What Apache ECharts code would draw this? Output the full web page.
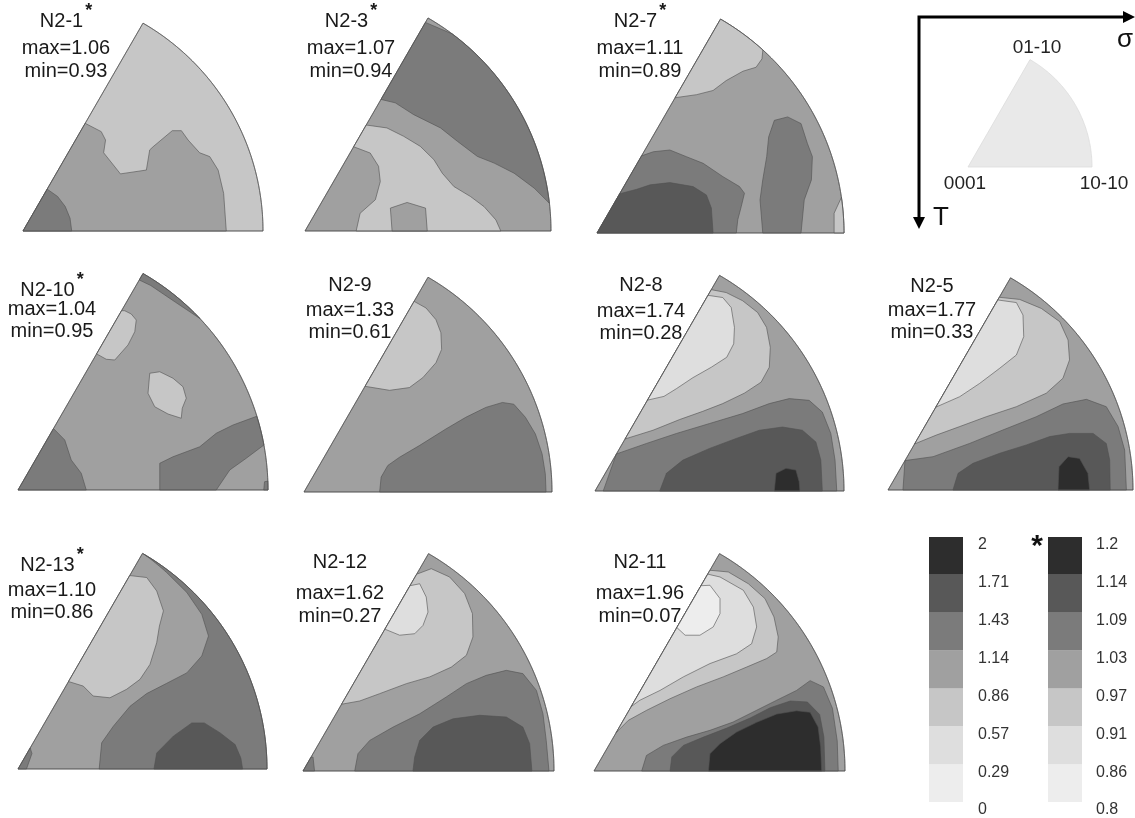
<!DOCTYPE html>
<html>
<head>
<meta charset="utf-8">
<script src="https://cdn.jsdelivr.net/npm/echarts/dist/echarts.min.js"></script>
<style>
  html, body { margin: 0; padding: 0; background: #ffffff; }
  #chart { width: 1135px; height: 818px; }
</style>
</head>
<body>
<div id="chart"></div>
<script>
// ---- colour bands and scale labels ----
const bandColors = ['#ededed', '#dedede', '#c6c6c6', '#a0a0a0', '#7b7b7b', '#585858', '#2d2d2d'];
const fullScale = ['0', '0.29', '0.57', '0.86', '1.14', '1.43', '1.71', '2'];
const starScale = ['0.8', '0.86', '0.91', '0.97', '1.03', '1.09', '1.14', '1.2'];

// ---- samples ----
const sampleNames = ['N2-1', 'N2-3', 'N2-7', 'N2-10', 'N2-9', 'N2-8', 'N2-5', 'N2-13', 'N2-12', 'N2-11'];
const starScaled  = [true, true, true, true, false, false, false, true, false, false];
const maxValues   = ['1.06', '1.07', '1.11', '1.04', '1.33', '1.74', '1.77', '1.10', '1.62', '1.96'];
const minValues   = ['0.93', '0.94', '0.89', '0.95', '0.61', '0.28', '0.33', '0.86', '0.27', '0.07'];

// Pole-figure domain: 60 degree sector, radius 100 (apex = 0001).
const SECTOR = [[0, 0], [100, 0], [50, 86.603]];

// Contour regions per sample: [band index, polygon in (u, v) % of radius], painted in order.
const n2_1 = [
  [2, SECTOR],
  [3, [[0,0],[25.5,45.1],[32.6,41.4],[34.4,37.9],[33.6,32.6],[40.6,23.8],[51.4,25.4],[52.8,33.8],[54.2,35.1],[62.2,41.8],[66.0,41.8],[68.8,37.9],[73.6,32.6],[77.8,31.0],[81.3,25.4],[83.6,15.7],[84.7,0]]],
  [4, [[0,0],[20.3,0],[19.6,5.3],[17.6,10.2],[14.4,14.4],[9.8,17.6]]]
];
const n2_3 = [
  [3, SECTOR],
  [4, [[48.6,85.0],[60.5,81.1],[99.3,11.3],[93.2,17.4],[85.0,23.5],[76.9,27.6],[70.1,30.3],[61.9,36.5],[55.1,41.9],[44.2,47.3],[36.7,52.1],[30.5,53.7]]],
  [2, [[24.5,43.3],[33.3,41.9],[40.1,38.5],[46.9,34.4],[52.4,29.0],[55.8,23.5],[60.5,18.1],[67.3,14.0],[72.8,9.9],[77.6,4.5],[79.6,0],[20.8,0],[22.4,7.2],[28.6,12.7],[30.6,20.1],[29.9,26.3],[26.5,31.7],[19.5,34.4]]],
  [3, [[34.7,9.3],[41.5,11.6],[49.0,9.3],[49.7,0],[35.4,0]]]
];
const n2_7 = [
  [3, SECTOR],
  [2, [[31.2,55.0],[40.3,56.0],[47.0,57.7],[52.3,61.7],[59.1,65.5],[64.4,67.1],[66.8,70.5],[67.5,74.5],[50,86.603]]],
  [4, [[0,0],[17.6,31.5],[22.8,32.9],[29.5,33.6],[36.2,30.9],[43.0,28.2],[51.0,22.8],[57.7,18.8],[59.7,16.1],[58.4,10.7],[57.0,5.4],[56.4,0]]],
  [5, [[0,0],[8.8,16.1],[16.1,17.7],[21.5,19.5],[29.5,20.4],[38.9,18.8],[44.3,15.4],[46.3,10.1],[47.0,0]]],
  [4, [[71.8,45.6],[77.2,47.0],[82.6,44.3],[85.2,36.2],[87.2,30.9],[86.8,21.5],[83.9,13.4],[82.6,0],[67.1,0],[66.0,13.4],[67.1,21.5],[68.7,30.9],[69.5,38.9]]],
  [2, [[96.0,0],[96.0,8.0],[99.5,14.5],[100,0]]]
];
const n2_10 = [
  [3, SECTOR],
  [2, [[41.0,72.0],[31.0,54.7],[35.3,52.3],[38.7,52.0],[44.0,58.0],[46.7,63.3],[47.3,68.0],[45.3,70.4],[42.7,71.7]]],
  [2, [[52.7,46.7],[56.7,47.3],[62.0,44.7],[66.0,41.3],[67.3,36.7],[65.7,32.7],[65.3,28.7],[60.0,30.4],[54.7,33.3],[52.0,38.7]]],
  [4, [[0,0],[14.0,24.7],[18.7,20.0],[21.3,12.0],[25.3,6.7],[27.3,0]]],
  [4, [[56.7,0],[56.7,10.7],[62.0,13.3],[72.7,17.3],[79.3,22.7],[86.0,26.0],[95.5,29.5],[98.4,18.0],[91.3,12.7],[84.7,8.0],[79.3,0]]],
  [4, [[98.3,0],[98.6,3.3],[100.5,3.6],[101,0]]],
  [4, [[50,86.603],[72.8,68.6],[63.0,75.1],[53.1,81.8],[48.5,84.0]]]
];
const n2_9 = [
  [3, SECTOR],
  [2, [[44.0,77.1],[49.2,74.2],[53.2,69.5],[55.2,64.2],[55.5,57.5],[53.2,52.1],[47.9,46.1],[42.5,42.1],[34.5,41.0],[24.3,42.8]]],
  [4, [[30.5,0],[31.1,6.0],[33.8,10.7],[38.5,14.0],[46.5,18.7],[57.2,25.4],[65.2,30.1],[73.3,34.1],[80.0,36.1],[84.6,35.4],[89.3,30.1],[93.3,23.4],[96.0,15.4],[97.3,7.4],[97.6,0]]]
];
const n2_8 = [
  [3, SECTOR],
  [2, [[46.3,81.1],[52.7,79.7],[59.3,76.4],[65.3,71.7],[68.9,65.7],[70.4,57.7],[70.0,49.7],[66.7,43.7],[60.0,39.3],[51.3,35.1],[43.3,32.0],[34.0,28.7],[23.3,24.4],[11.7,21.1]]],
  [1, [[45.0,78.8],[51.3,77.7],[54.7,73.7],[56.0,65.7],[55.7,59.1],[52.9,53.7],[46.7,49.7],[39.3,45.5],[32.7,41.1],[27.7,38.0],[20.7,36.7]]],
  [4, [[8.2,15.1],[20.7,19.1],[32.7,23.1],[46.0,27.1],[59.3,31.1],[70.0,35.1],[78.0,37.1],[86.0,36.4],[91.3,31.7],[94.7,23.1],[96.4,12.4],[97.1,0],[3.3,0]]],
  [5, [[26,0],[28.7,7.1],[35.3,12.4],[46,17.1],[56.7,21.1],[66,24.4],[75.3,25.7],[83.3,24.4],[88.7,19.7],[90.7,12.4],[91.3,0]]],
  [6, [[72,0],[72.7,7.1],[76.7,9.1],[80.7,8.4],[82,3.7],[82.3,0]]]
];
const n2_5 = [
  [3, SECTOR],
  [2, [[45.0,78.9],[53.7,77.8],[62.6,74.1],[70.1,68.7],[73.5,61.2],[74.1,53.1],[71.4,45.6],[64.6,39.5],[52.4,34.0],[40.1,29.9],[29.3,25.9],[19.7,22.4],[10.5,19.0]]],
  [1, [[44.4,77.8],[52.4,76.5],[55.1,71.4],[55.4,62.6],[52.4,55.1],[45.6,49.7],[37.4,43.5],[29.3,38.1],[19.2,34.0]]],
  [4, [[6.6,12.2],[18.4,13.6],[33.3,19.0],[46.9,24.5],[60.5,29.9],[71.4,35.1],[81.0,37.0],[89.1,34.0],[93.9,25.9],[96.6,16.3],[97.3,0],[6.1,0]]],
  [5, [[26.5,0],[28.6,6.8],[34.7,10.9],[45.6,15.0],[56.5,18.4],[66.0,21.8],[74.1,23.1],[83.7,23.1],[89.1,19.0],[90.5,12.2],[90.7,0]]],
  [6, [[69.4,0],[69.8,9.5],[73.5,13.6],[78.2,12.9],[81.6,6.8],[82.3,0]]]
];
const n2_13 = [
  [3, SECTOR],
  [2, [[44.5,77.9],[51.7,76.9],[55.7,71.5],[58.4,63.5],[56.8,57.4],[55.7,50.7],[53.0,42.0],[49.0,36.0],[43.6,32.0],[36.9,28.6],[30.2,29.3],[26.2,33.3],[20.0,35.3]]],
  [4, [[50.5,86.5],[59.7,78.9],[67.8,70.9],[73.8,62.1],[76.5,53.4],[73.8,45.4],[67.8,38.6],[59.7,34.4],[51.7,30.3],[45.0,25.2],[38.3,17.2],[33.6,10.5],[32.6,0],[100,0]]],
  [5, [[54.6,0],[55.7,6.4],[62.4,13.2],[69.8,18.5],[74.8,18.5],[81.2,14.5],[87.2,9.8],[89.5,4.4],[90.2,0]]],
  [4, [[0,0],[3.4,0],[5.6,6.2],[4.5,8.7]]]
];
const n2_12 = [
  [3, SECTOR],
  [2, [[44.9,78.6],[51.1,80.6],[58.4,77.3],[64.4,70.7],[67.5,62.7],[67.7,53.4],[65.1,46.1],[59.1,41.4],[50.5,37.5],[41.2,34.8],[30.5,30.8],[22.6,27.9],[15.0,26.8]]],
  [1, [[42.3,74.0],[46.5,74.6],[49.1,69.3],[49.8,63.3],[47.8,58.0],[44.5,54.7],[38.5,54.1],[32.3,56.7]]],
  [4, [[20.6,0],[21.9,6.9],[26.6,12.2],[35.9,17.5],[46.5,22.8],[57.1,29.5],[65.1,34.8],[73.0,38.1],[81.0,40.1],[87.6,38.8],[93.0,32.1],[95.6,22.8],[96.9,12.2],[98.0,0]]],
  [5, [[43.8,0],[44.5,5.6],[46.5,12.2],[51.8,17.5],[59.8,20.8],[70.4,22.2],[81.0,21.5],[87.6,17.5],[90.3,10.9],[91.2,0]]],
  [4, [[0,0],[4.6,0],[4.0,5.6],[2.8,5.6]]]
];
const n2_11 = [
  [3, SECTOR],
  [2, [[45.8,80.2],[53.5,79.3],[61.5,74.6],[68.1,68.7],[71.7,61.4],[73.4,53.4],[72.8,47.4],[68.8,44.8],[60.8,41.4],[51.5,37.5],[40.9,33.5],[30.3,28.8],[21.0,24.2],[13.7,20.2],[8.5,15.5]]],
  [1, [[45.0,78.6],[50.2,77.3],[59.5,72.0],[63.5,65.3],[64.8,57.4],[62.8,50.7],[56.8,46.7],[46.2,42.8],[35.6,37.5],[26.3,32.1],[18.3,28.2],[14.5,25.9]]],
  [0, [[42.3,74.0],[46.2,74.0],[50.2,68.7],[50.2,62.7],[47.5,57.4],[42.2,54.1],[36.3,54.1],[32.6,57.4]]],
  [4, [[19.0,0],[20.9,6.2],[27.6,10.2],[36.9,13.5],[46.2,16.2],[55.4,19.5],[64.8,24.2],[72.8,28.2],[80.7,32.1],[86.1,36.0],[91.4,33.5],[95.0,25.0],[96.9,12.0],[97.3,0]]],
  [5, [[30.3,0],[31.0,5.6],[35.6,10.2],[43.6,13.5],[52.9,17.1],[62.2,21.1],[70.2,25.2],[78.2,27.9],[85.0,27.5],[89.9,22.5],[91.6,13.5],[92.0,0]]],
  [6, [[45.6,0],[46.2,6.9],[50.2,10.9],[56.8,15.5],[64.8,19.4],[72.8,22.7],[80.7,24.0],[86.1,23.4],[89.3,17.5],[90.3,9.6],[90.7,0]]]
];
const contourSets = [n2_1, n2_3, n2_7, n2_10, n2_9, n2_8, n2_5, n2_13, n2_12, n2_11];

// ---- page layout (pixels) ----
const panelLayout = [
  { cx: 23,  cy: 231, R: 240, tx: 66,  ty: [21, 48, 71] },
  { cx: 305, cy: 231, R: 246, tx: 351, ty: [21, 48, 71] },
  { cx: 597, cy: 233, R: 247, tx: 640, ty: [21, 48, 71] },
  { cx: 18,  cy: 490, R: 250, tx: 52,  ty: [290, 309, 331] },
  { cx: 304, cy: 492, R: 248, tx: 350, ty: [285, 310, 332] },
  { cx: 595, cy: 491, R: 249, tx: 641, ty: [285, 311, 333] },
  { cx: 888, cy: 490, R: 245, tx: 932, ty: [286, 310, 332] },
  { cx: 18,  cy: 769, R: 249, tx: 52,  ty: [565, 590, 612] },
  { cx: 303, cy: 771, R: 251, tx: 340, ty: [562, 593, 616] },
  { cx: 594, cy: 771, R: 251, tx: 640, ty: [562, 593, 616] }
];
const keyLayout = { cx: 968, cy: 167, R: 124 };
const FONT = '"Liberation Sans", Arial, sans-serif';
const SIN60 = Math.sqrt(3) / 2;

// width of a string in the label font (for placing the superscript star)
const measureCtx = document.createElement('canvas').getContext('2d');
function textWidth(str, font) { measureCtx.font = font; return measureCtx.measureText(str).width; }

// Keep a vertex inside the 60 degree sector.
function toSector(p) {
  let u = p[0], v = Math.max(0, p[1]);
  if (Math.atan2(v, u) > Math.PI / 3 + 1e-9) {
    const t = Math.max(0, u * 0.5 + v * SIN60);
    u = t * 0.5; v = t * SIN60;
  }
  if (u < 0) u = 0;
  const r = Math.hypot(u, v);
  if (r > 100) { u *= 100 / r; v *= 100 / r; }
  return [u, v];
}
// Edges lying on the rim follow the circular arc.
function tracePath(pts) {
  const q = pts.map(toSector), out = [];
  for (let i = 0; i < q.length; i++) {
    const a = q[i], b = q[(i + 1) % q.length];
    const ra = Math.hypot(a[0], a[1]), rb = Math.hypot(b[0], b[1]);
    if (ra > 98.5 && rb > 98.5) {
      const ta = Math.atan2(a[1], a[0]), tb = Math.atan2(b[1], b[0]);
      const n = Math.max(1, Math.ceil(Math.abs(tb - ta) / 0.01));
      for (let s = 0; s < n; s++) {
        const t = s / n, ang = ta + (tb - ta) * t, r = ra + (rb - ra) * t;
        out.push([r * Math.cos(ang), r * Math.sin(ang)]);
      }
    } else {
      out.push(a);
    }
  }
  return out;
}
function regionRenderer(regions, stroke, lineWidth) {
  return function (params, api) {
    const reg = regions[params.dataIndex];
    const pts = tracePath(reg[1]).map(p => api.coord(p));
    return {
      type: 'polygon',
      z2: params.dataIndex,
      shape: { points: pts },
      style: {
        fill: reg[0] < 0 ? null : (reg[2] || bandColors[reg[0]]),
        stroke: stroke,
        lineWidth: lineWidth
      }
    };
  };
}

const grids = [], xAxes = [], yAxes = [], series = [], texts = [];
function addSectorGrid(cx, cy, R) {
  const idx = grids.length;
  grids.push({ left: cx, top: cy - R * SIN60, width: R, height: R * SIN60 });
  xAxes.push({ type: 'value', gridIndex: idx, min: 0, max: 100, show: false });
  yAxes.push({ type: 'value', gridIndex: idx, min: 0, max: 86.603, show: false });
  return idx;
}

const LABEL_FONT = '20px ' + FONT;
const STAR_FONT = 'bold 18px ' + FONT;
contourSets.forEach((regions, k) => {
  const L = panelLayout[k];
  const gi = addSectorGrid(L.cx, L.cy, L.R);
  const withRim = regions.concat([[-1, SECTOR]]);
  series.push({
    type: 'custom', xAxisIndex: gi, yAxisIndex: gi, silent: true, animation: false, clip: false,
    renderItem: regionRenderer(withRim, 'rgba(80,80,80,0.75)', 0.8),
    data: withRim.map((r, i) => [i, r[0]])
  });
  const txtStyle = { font: LABEL_FONT, fill: '#1a1a1a', align: 'center', verticalAlign: 'middle' };
  if (starScaled[k]) {
    // sample name followed by a raised star
    const w = textWidth(sampleNames[k], LABEL_FONT), sw = textWidth('*', STAR_FONT);
    const x0 = L.tx - (w + sw + 2) / 2;
    texts.push({ type: 'text', x: x0, y: L.ty[0], silent: true,
      style: { text: sampleNames[k], font: LABEL_FONT, fill: '#1a1a1a', align: 'left', verticalAlign: 'middle' } });
    texts.push({ type: 'text', x: x0 + w + 2, y: L.ty[0] - 10, silent: true,
      style: { text: '*', font: STAR_FONT, fill: '#1a1a1a', align: 'left', verticalAlign: 'middle' } });
  } else {
    texts.push({ type: 'text', x: L.tx, y: L.ty[0], silent: true, style: Object.assign({}, txtStyle, { text: sampleNames[k] }) });
  }
  texts.push({ type: 'text', x: L.tx, y: L.ty[1], silent: true, style: Object.assign({}, txtStyle, { text: 'max=' + maxValues[k] }) });
  texts.push({ type: 'text', x: L.tx, y: L.ty[2], silent: true, style: Object.assign({}, txtStyle, { text: 'min=' + minValues[k] }) });
});

// key sector (orientation reference)
const keyRegions = [[0, SECTOR, '#e9e9e9']];
const kg = addSectorGrid(keyLayout.cx, keyLayout.cy, keyLayout.R);
series.push({
  type: 'custom', xAxisIndex: kg, yAxisIndex: kg, silent: true, animation: false, clip: false,
  renderItem: regionRenderer(keyRegions, '#dcdcdc', 0.8),
  data: keyRegions.map((r, i) => [i, r[0]])
});
const keyText = { font: '19px ' + FONT, fill: '#222', align: 'center', verticalAlign: 'middle' };
texts.push({ type: 'text', x: 1037, y: 48, silent: true, style: Object.assign({}, keyText, { text: '01-10' }) });
texts.push({ type: 'text', x: 965, y: 184, silent: true, style: Object.assign({}, keyText, { text: '0001' }) });
texts.push({ type: 'text', x: 1104, y: 184, silent: true, style: Object.assign({}, keyText, { text: '10-10' }) });
texts.push({ type: 'text', x: 1125, y: 40, silent: true, style: { text: 'σ', font: '26px ' + FONT, fill: '#111', align: 'center', verticalAlign: 'middle' } });
texts.push({ type: 'text', x: 941, y: 218, silent: true, style: { text: 'T', font: '26px ' + FONT, fill: '#111', align: 'center', verticalAlign: 'middle' } });
texts.push({ type: 'polyline', silent: true, shape: { points: [[919, 220], [919, 17], [1126, 17]] }, style: { stroke: '#000', lineWidth: 3, fill: null } });
texts.push({ type: 'polygon', silent: true, shape: { points: [[1135, 17], [1123, 11], [1123, 23]] }, style: { fill: '#000' } });
texts.push({ type: 'polygon', silent: true, shape: { points: [[919, 229], [913, 217], [925, 217]] }, style: { fill: '#000' } });

// colour bars
function addColorBar(left, labels, stackName, margin) {
  const idx = grids.length;
  grids.push({ left: left, top: 537, width: 34, height: 265 });
  xAxes.push({ type: 'category', gridIndex: idx, data: [''], show: false });
  yAxes.push({
    type: 'value', gridIndex: idx, min: 0, max: 7, interval: 1, position: 'right',
    axisLine: { show: false }, axisTick: { show: false }, splitLine: { show: false },
    axisLabel: {
      show: true, showMinLabel: true, showMaxLabel: true, margin: margin,
      verticalAlign: 'top', color: '#333', fontSize: 16, fontFamily: FONT,
      formatter: v => labels[v]
    }
  });
  bandColors.forEach((c, b) => {
    series.push({
      type: 'bar', stack: stackName, xAxisIndex: idx, yAxisIndex: idx, silent: true, animation: false,
      barWidth: '100%', data: [1], itemStyle: { color: c }
    });
  });
}
addColorBar(929, fullScale, 'full', 15);
addColorBar(1048, starScale, 'star', 14);
texts.push({ type: 'text', x: 1037, y: 547, silent: true, style: { text: '*', font: 'bold 30px ' + FONT, fill: '#111', align: 'center', verticalAlign: 'middle' } });

const chart = echarts.init(document.getElementById('chart'), null, { renderer: 'canvas' });
chart.setOption({
  backgroundColor: '#ffffff',
  animation: false,
  grid: grids,
  xAxis: xAxes,
  yAxis: yAxes,
  series: series,
  graphic: { elements: texts }
});
</script>
</body>
</html>
